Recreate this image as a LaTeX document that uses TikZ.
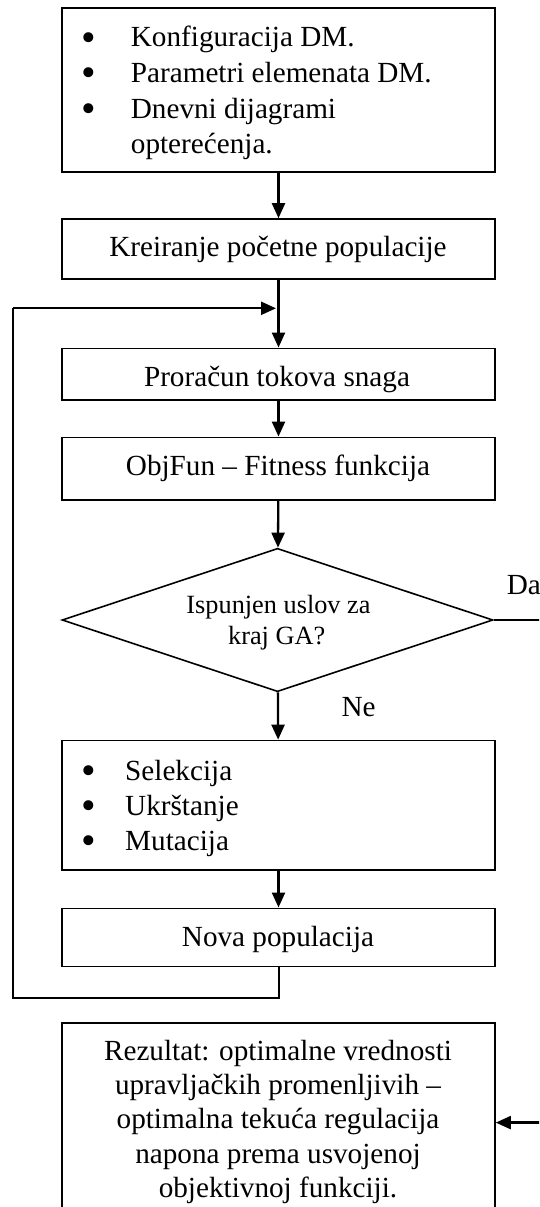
\documentclass[tikz,border=0pt]{standalone}
\usepackage{fontspec}
\setmainfont{Liberation Serif}
\usetikzlibrary{shapes.geometric,arrows.meta}
\begin{document}
\begin{tikzpicture}[x=1pt,y=-1pt,
 box/.style={draw,line width=1.6pt,inner sep=0pt,minimum width=433pt},
 lbl/.style={font=\fontsize{29.2}{35}\selectfont,inner sep=0pt,anchor=base},
 lbll/.style={lbl,anchor=base west},
 bul/.style={font=\fontsize{41.7}{42}\selectfont,inner sep=0pt,anchor=base,yshift=-4.5pt},
 dlbl/.style={lbl,font=\fontsize{26.3}{31}\selectfont},
 arr/.style={line width=2.3pt,-{Triangle[length=15pt,width=13pt]}},
 ln/.style={line width=2.3pt}]
\useasboundingbox (0,0) rectangle (539,1207);
\clip (0,0) rectangle (539,1207);

% boxes
\node[box,minimum height=163.4pt] (b1) at (278.5,90) {};
\node[box,minimum height=60pt] (b2) at (278.5,249) {};
\node[box,minimum height=51.7pt] (b3) at (278.5,374.2) {};
\node[box,minimum height=62.7pt] (b4) at (278.5,468.7) {};
\node[draw,line width=1.6pt,diamond,inner sep=0pt,minimum width=431pt,minimum height=143.4pt] (d) at (277.5,620) {};
\node[box,minimum height=129.5pt] (b5) at (278.5,805.2) {};
\node[box,minimum height=58.2pt] (b6) at (278.5,937.4) {};
\node[box,minimum height=198.7pt] (b7) at (278.5,1122.6) {};

% texts
\node[bul] (k1) at (88.8,46.7) {•};
\node[lbll] (t1) at (130.7,46.7) {Konfiguracija DM.};
\node[bul] (k2) at (88.8,82.3) {•};
\node[lbll] (t2) at (130.7,82.3) {Parametri elemenata DM.};
\node[bul] (k3) at (88.8,118) {•};
\node[lbll] (t3) at (130.7,118) {Dnevni dijagrami};
\node[lbll] (t4) at (130.7,153) {opterećenja.};

\node[lbl] (tb2) at (278,256.7) {Kreiranje početne populacije};
\node[lbl] (tb3) at (277,386) {Proračun tokova snaga};
\node[lbl] (tb4) at (278,475) {ObjFun – Fitness funkcija};
\node[dlbl] (td1) at (278.5,613.3) {Ispunjen uslov za};
\node[dlbl] (td2) at (276.7,644.5) {kraj GA?};

\node[bul] (s1) at (88.8,780) {•};
\node[lbll] (u1) at (125,780) {Selekcija};
\node[bul] (s2) at (88.8,815) {•};
\node[lbll] (u2) at (125,815) {Ukrštanje};
\node[bul] (s3) at (88.8,850) {•};
\node[lbll] (u3) at (125,850) {Mutacija};

\node[lbl] (tb6) at (278,946.7) {Nova populacija};

\node[lbl] (r1) at (278,1060.7) {Rezultat: optimalne vrednosti};
\node[lbl] (r2) at (278,1094.7) {upravljačkih promenljivih –};
\node[lbl] (r3) at (278,1128.7) {optimalna tekuća regulacija};
\node[lbl] (r4) at (278,1163) {napona prema usvojenoj};
\node[lbl] (r5) at (278,1197) {objektivnoj funkciji.};

\node[lbll] (da) at (506.7,594.5) {Da};
\node[lbll] (ne) at (341.4,716.7) {Ne};

% connectors
\draw[arr] (b1) -- (b2);
\draw[arr] (b2) -- (b3);
\draw[arr] (b3) -- (b4);
\draw[arr] (b4) -- (d);
\draw[arr] (d) -- (b5);
\draw[arr] (b5) -- (b6);

\coordinate (lb) at (12.7,998);
\coordinate (lt) at (12.7,308.3);
\coordinate (j) at (276,308.3);
\draw[line width=2pt] (b6.south) |- (lb) -- (lt);
\draw[arr] (lt) -- (j);

\coordinate (dr) at (560,620);
\draw[arr] (d.east) -- (dr) |- (b7.east);
\end{tikzpicture}
\end{document}
